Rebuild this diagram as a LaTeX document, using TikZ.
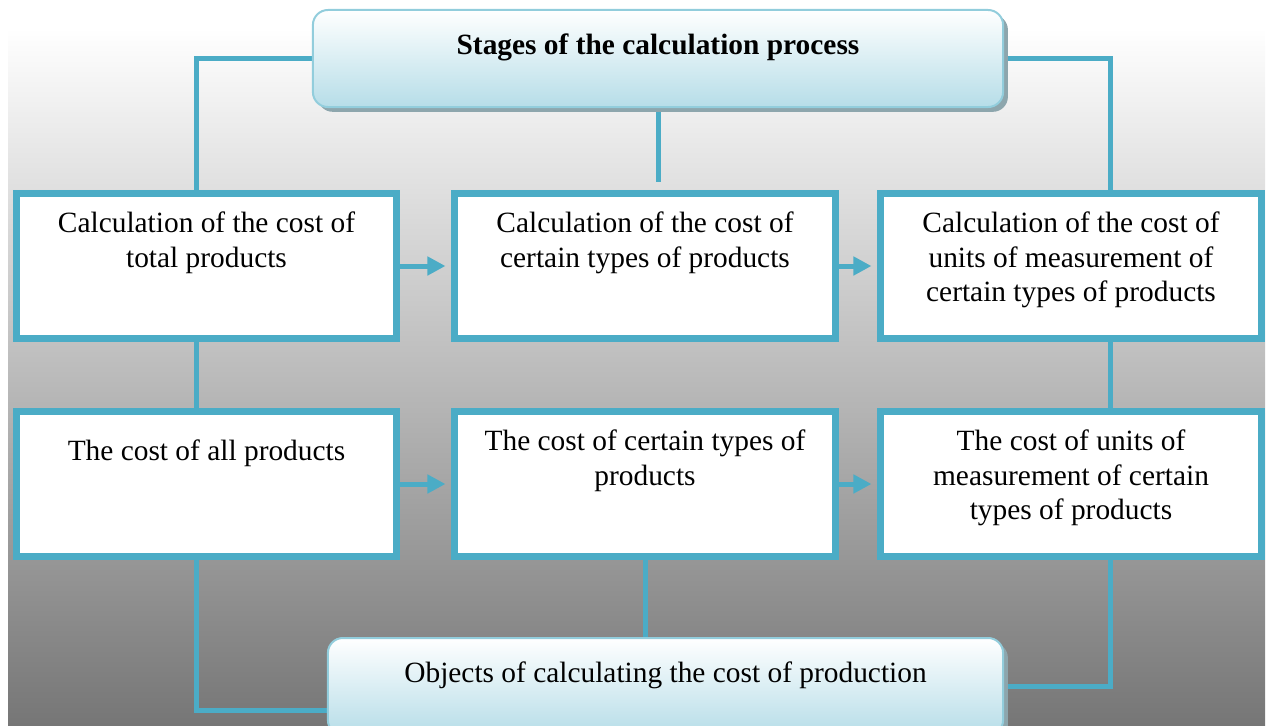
\documentclass[tikz,border=0pt]{standalone}
\usepackage{fontspec}
\setmainfont{Liberation Serif}
\usepackage{tikz}
\usetikzlibrary{positioning,arrows.meta,shadows,calc,backgrounds}
\definecolor{boxblue}{HTML}{4BACC6}
\definecolor{roundblue}{HTML}{92CDDC}
\definecolor{roundfill}{HTML}{B6DDE8}
\definecolor{shadowgray}{HTML}{8DA6AD}
\definecolor{bggray}{HTML}{767676}
\tikzstyle{stagebox} = [draw=boxblue, line width=0.175cm, fill=white, inner sep=0pt]
\tikzstyle{roundbox} = [draw=roundblue, line width=0.05cm, rounded corners=0.375cm,
  top color=white, bottom color=roundfill, inner sep=0pt,
  drop shadow={shadow xshift=0.12cm, shadow yshift=-0.12cm, fill=shadowgray, opacity=1}]
\tikzstyle{link} = [draw=boxblue, line width=0.125cm]
\tikzstyle{flow} = [link, -{Triangle[length=0.45cm, width=0.45cm]}, shorten >=0.15cm]
\newcommand{\boxtext}[2][0.47cm]{% #1: gap above the text; #2: text
  \parbox[t][3.625cm][t]{9.5cm}{\centering\vspace*{#1}#2}%
}
\newcommand{\roundtext}[2]{% #1: box width; #2: text
  \parbox[t][2.425cm][t]{#1}{\centering\vspace*{0.6cm}#2}%
}

\begin{document}
\begin{tikzpicture}[x=0.025cm, y=-0.025cm, font=\fontsize{20.9}{24.2}\selectfont]
  \useasboundingbox (0,0) rectangle (1267,725);
  % boxes
  \node[roundbox] (stages) at (658,58.5)
    {\roundtext{17.25cm}{\textbf{Stages of the calculation process}}};
  \node[stagebox] (calc1) at (206.5,266) {\boxtext{Calculation of the cost of\\ total products}};
  \node[stagebox] (calc2) at (645,266) {\boxtext{Calculation of the cost of\\ certain types of products}};
  \node[stagebox] (calc3) at (1071,266)
    {\boxtext{Calculation of the cost of\\ units of measurement of\\ certain types of products}};
  \node[stagebox] (cost1) at (206.5,484) {\boxtext[0.7cm]{The cost of all products}};
  \node[stagebox] (cost2) at (645,484) {\boxtext{The cost of certain types of\\ products}};
  \node[stagebox] (cost3) at (1071,484)
    {\boxtext{The cost of units of\\ measurement of certain\\ types of products}};
  \node[roundbox] (objects) at (665.5,686.5)
    {\roundtext{16.875cm}{Objects of calculating the cost of production}};
  % links
  \begin{scope}[on background layer]
    \fill[top color=white, bottom color=bggray] (8,28) rectangle (1265,725);
    \draw[link] (stages.west) -| ($(calc1.north)+(-10,0)$);
    \draw[link] (stages.south) -- ($(stages.south |- calc2.north)+(0,-8)$);
    \draw[link] (stages.east) -| ($(calc3.north)+(39,0)$);
    \draw[link] ($(calc1.south)+(-10,0)$) -- ($(cost1.north)+(-10,0)$);
    \draw[link] ($(calc3.south)+(39,0)$) -- ($(cost3.north)+(39,0)$);
    \draw[link] ($(cost1.south)+(-10,0)$) |- ($(objects.west)+(0,24)$);
    \draw[link] (cost2.south) -- (cost2.south |- objects.north);
    \draw[link] ($(cost3.south)+(39,0)$) |- (objects.east);
  \end{scope}
  \draw[flow] (calc1.east) -- (calc2.west);
  \draw[flow] (calc2.east) -- (calc3.west);
  \draw[flow] (cost1.east) -- (cost2.west);
  \draw[flow] (cost2.east) -- (cost3.west);
\end{tikzpicture}
\end{document}
